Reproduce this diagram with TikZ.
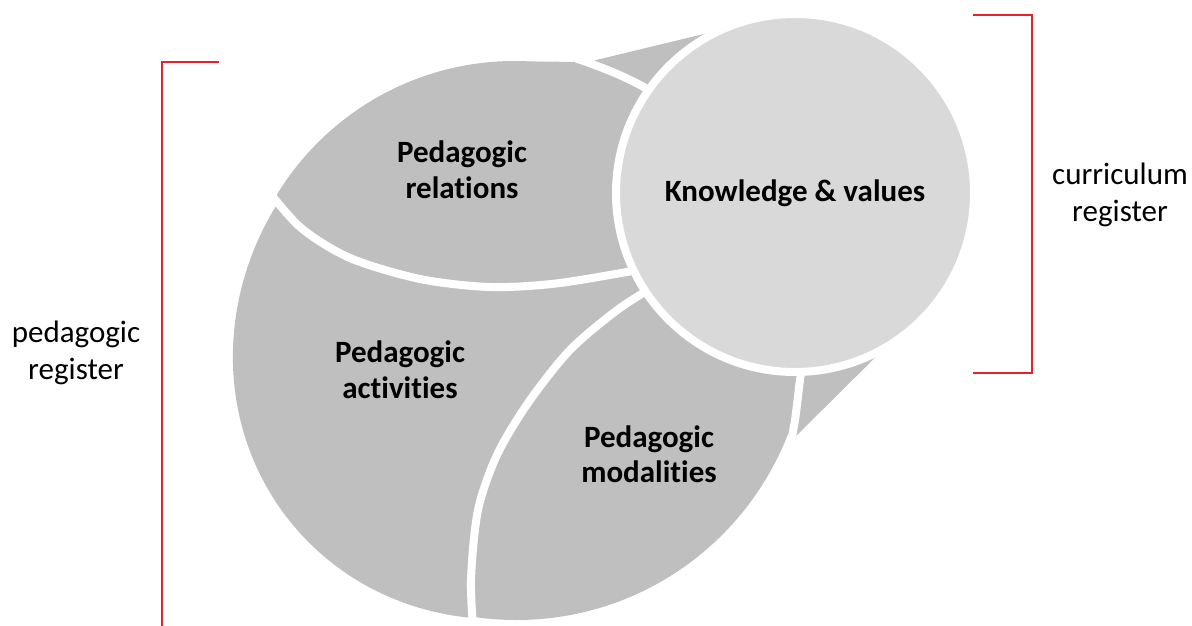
\documentclass[tikz,border=0pt]{standalone}
\usepackage{fontspec}
\setmainfont{Carlito}[Ligatures=NoCommon]
\definecolor{shapegray}{RGB}{191,191,191}
\definecolor{circgray}{RGB}{217,217,217}
\definecolor{bracketred}{RGB}{232,32,40}
\tikzset{
  region/.style={fill=shapegray},
  band/.style={draw=white, line width=8pt},
  lab/.style={font=\fontsize{31}{35.5}\selectfont\bfseries, align=center, inner sep=0pt, text=black},
  side/.style={font=\fontsize{31}{37}\selectfont, align=center, inner sep=0pt, text=black},
  bracket/.style={draw=bracketred, line width=2pt},
}
\begin{document}
\begin{tikzpicture}[x=1pt,y=-1pt]
\useasboundingbox (0,0) rectangle (1192,626);
% --- Pedagogic relations (upper part of the big shape)
\begin{scope}
  \clip (200,0) -- (200,170) -- plot[smooth] coordinates {(262,183) (300,227) (350,258) (420,279) (490,287) (560,283) (660,266)} -- (720,200) -- (720,0) -- cycle;
  \fill[region] (515,340) circle[radius=279pt];
\end{scope}
% --- Pedagogic activities (left part)
\begin{scope}
  \clip (200,170) -- plot[smooth] coordinates {(262,183) (300,227) (350,258) (420,279) (490,287) (560,283) (660,266)} -- (670,277) -- plot[smooth] coordinates {(620,308) (570,350) (528,403) (497,455) (478,510) (471,580) (474,640)} -- (200,640) -- cycle;
  \fill[region, rotate around={40:(515,340)}] (515,340) ellipse[x radius=289pt, y radius=272pt];
\end{scope}
% --- Pedagogic modalities (lower right part)
\begin{scope}
  \clip plot[smooth] coordinates {(474,640) (471,580) (478,510) (497,455) (528,403) (570,350) (620,308) (670,277)} -- (820,300) -- (950,640) -- cycle;
  \fill[region] (516.5,329) circle[radius=291pt];
\end{scope}
% --- wedge towards the small circle
\fill[region] (530,61.5) -- (588,62) -- (745,24) -- (920,313) -- (792,440) -- (700,300) -- (600,120) -- cycle;
% --- white separating bands
\draw[band] plot[smooth] coordinates {(262,183) (300,227) (350,258) (420,279) (490,287) (560,283) (660,266)};
\draw[band] plot[smooth] coordinates {(474,640) (471,580) (478,510) (497,455) (528,403) (570,350) (620,308) (670,277)};
\draw[band] plot[smooth] coordinates {(576,58.5) (588,62.5) (615,73) (640,85) (668,101)};
\draw[band] plot[smooth] coordinates {(803,362) (800,380) (795,420) (789,452)};
% --- small circle
\node[circle, fill=circgray, draw=white, line width=8pt, minimum size=358pt, inner sep=0pt,
      font=\fontsize{31}{35.5}\selectfont\bfseries] (kv) at (795,193) {Knowledge \& values};
% --- region labels
\node[lab] (rel) at (462,173.5) {\strut Pedagogic\\\strut relations};
\node[lab] (act) at (400,373.5) {\strut Pedagogic\\\strut activities};
\node[lab] (mod) at (649,458) {\strut Pedagogic\\\strut modalities};
% --- brackets
\draw[bracket] (219,62) -- (162,62) -- (162,626);
\draw[bracket] (973,15) -- (1032,15) -- (1032,373) -- (973,373);
% --- side labels
\node[side] (ped) at (76,354) {\strut pedagogic\\\strut register};
\node[side] (cur) at (1120,196) {\strut curriculum\\\strut register};
\end{tikzpicture}
\end{document}
